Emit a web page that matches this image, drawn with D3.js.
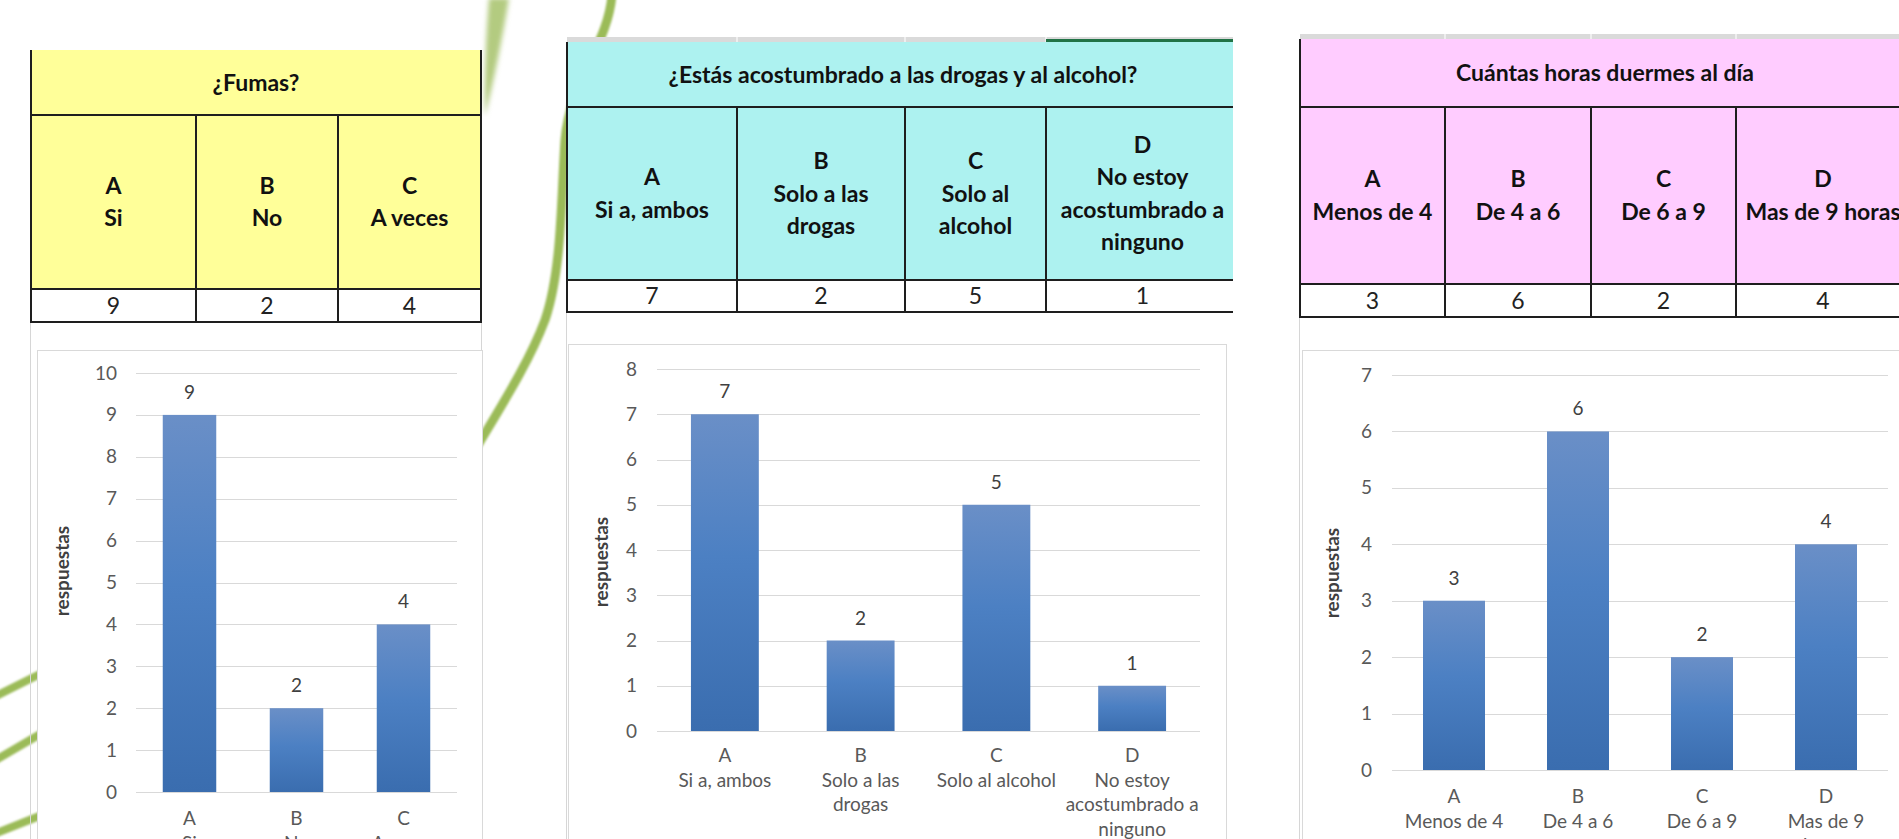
<!DOCTYPE html>
<html><head><meta charset="utf-8">
<script src="https://cdn.jsdelivr.net/npm/d3@7"></script>
<style>
html,body{margin:0;padding:0;background:#fff;overflow:hidden;}
svg{display:block;}
text{font-family:Lato,"Open Sans",sans-serif;}
</style></head><body>
<svg id="c" width="1899" height="839"></svg>
<script>
// ---------------- DATA ----------------
const axisTitle = "respuestas";

const fumasTitle = "¿Fumas?";
const fumasCategories = ["A", "B", "C"];
const fumasOptions = [["Si"], ["No"], ["A veces"]];
const fumasAxisOptions = [["Si"], ["No"], ["A veces"]];
const fumasValues = [9, 2, 4];
const fumasTicks = [0, 1, 2, 3, 4, 5, 6, 7, 8, 9, 10];

const drogasTitle = "¿Estás acostumbrado a las drogas y al alcohol?";
const drogasCategories = ["A", "B", "C", "D"];
const drogasOptions = [["Si a, ambos"], ["Solo a las", "drogas"], ["Solo al", "alcohol"], ["No estoy", "acostumbrado a", "ninguno"]];
const drogasAxisOptions = [["Si a, ambos"], ["Solo a las", "drogas"], ["Solo al alcohol"], ["No estoy", "acostumbrado a", "ninguno"]];
const drogasValues = [7, 2, 5, 1];
const drogasTicks = [0, 1, 2, 3, 4, 5, 6, 7, 8];

const suenoTitle = "Cuántas horas duermes al día";
const suenoCategories = ["A", "B", "C", "D"];
const suenoOptions = [["Menos de 4"], ["De 4 a 6"], ["De 6 a 9"], ["Mas de 9 horas"]];
const suenoAxisOptions = [["Menos de 4"], ["De 4 a 6"], ["De 6 a 9"], ["Mas de 9", "horas"]];
const suenoValues = [3, 6, 2, 4];
const suenoTicks = [0, 1, 2, 3, 4, 5, 6, 7];

// ---------------- LAYOUT ----------------
const panels = [
  {title: fumasTitle, cats: fumasCategories, opts: fumasOptions, axisOpts: fumasAxisOptions, values: fumasValues, ticks: fumasTicks,
   fill: "#FFFF99",
   table: {cols: [31, 196, 338, 481], clipRight: 482, top: 50, titleBottom: 115, headBottom: 289, valBottom: 322, band: null, green: null},
   chart: {box: [37, 350, 482, 900], x0: 136, x1: 457, yTop: 373, yZero: 792, tickRight: 117, titleX: 62, titleY: 571, catGap: 33}},
  {title: drogasTitle, cats: drogasCategories, opts: drogasOptions, axisOpts: drogasAxisOptions, values: drogasValues, ticks: drogasTicks,
   fill: "#ADF2F0",
   table: {cols: [567, 737, 905, 1046, 1239], clipRight: 1233, top: 42, titleBottom: 107, headBottom: 280, valBottom: 312, band: 37, green: [1046, 1233]},
   chart: {box: [568, 344, 1226, 900], x0: 657, x1: 1200, yTop: 369, yZero: 731, tickRight: 637, titleX: 601, titleY: 562, catGap: 31}},
  {title: suenoTitle, cats: suenoCategories, opts: suenoOptions, axisOpts: suenoAxisOptions, values: suenoValues, ticks: suenoTicks,
   fill: "#FFCCFF",
   table: {cols: [1300, 1445, 1591, 1736, 1910], clipRight: 1920, top: 39, titleBottom: 107, headBottom: 284, valBottom: 317, band: 34, green: null},
   chart: {box: [1302, 350, 1960, 900], x0: 1392, x1: 1888, yTop: 375, yZero: 770, tickRight: 1372, titleX: 1332, titleY: 573, catGap: 33}}
];

const svg = d3.select("#c");
const defs = svg.append("defs");

const grad = defs.append("linearGradient").attr("id", "barGrad")
  .attr("x1", 0).attr("y1", 0).attr("x2", 0).attr("y2", 1);
grad.append("stop").attr("offset", "0%").attr("stop-color", "#6A8FC7");
grad.append("stop").attr("offset", "45%").attr("stop-color", "#4C80C3");
grad.append("stop").attr("offset", "100%").attr("stop-color", "#3A6DAF");

const blur = defs.append("filter").attr("id", "soft").attr("x", "-20%").attr("y", "-20%").attr("width", "140%").attr("height", "140%");
blur.append("feGaussianBlur").attr("stdDeviation", 1.2);
const blur2 = defs.append("filter").attr("id", "softer").attr("x", "-50%").attr("y", "-20%").attr("width", "200%").attr("height", "140%");
blur2.append("feGaussianBlur").attr("stdDeviation", 2.5);

// ---------------- decorative background leaves ----------------
const deco = svg.append("g");
deco.append("path").attr("d", "M489,-2 L509,-2 C503,35 494,80 485,116 C484,80 486,35 489,-2 Z")
  .attr("fill", "#B3CB80").attr("filter", "url(#softer)");
deco.append("path").attr("d", "M612,-5 C608,45 570,80 565,140 C561,200 562,270 545,320 C530,360 505,400 478,445")
  .attr("fill", "none").attr("stroke", "#9BBB59").attr("stroke-width", 9).attr("stroke-linecap", "round").attr("filter", "url(#soft)");
[["M-6,697 L42,673"], ["M-6,761 L42,733"], ["M-6,834 L42,815"]].forEach(d => {
  deco.append("path").attr("d", d[0]).attr("fill", "none").attr("stroke", "#9BBB59")
    .attr("stroke-width", 8).attr("stroke-linecap", "round").attr("filter", "url(#soft)");
});

// ---------------- draw panels ----------------
const LINE = "#1e1e1e";
const TFS = 23;     // table font size
const CFS = 19;     // chart font size

panels.forEach((p, pi) => {
  const t = p.table, c = p.chart;
  const x0 = t.cols[0], xR = t.cols[t.cols.length - 1];

  const guide = svg.append("g").attr("stroke", "#D6D6D6").attr("stroke-width", 1);
  guide.append("line").attr("x1", x0 - 0.5).attr("x2", x0 - 0.5).attr("y1", t.valBottom).attr("y2", 839);
  if (pi === 0) guide.append("line").attr("x1", xR + 0.5).attr("x2", xR + 0.5).attr("y1", t.valBottom).attr("y2", c.box[1]);

  // ---- table ----
  defs.append("clipPath").attr("id", "tclip" + pi).append("rect")
    .attr("x", x0 - 3).attr("y", 0).attr("width", t.clipRight - x0 + 3).attr("height", 839);
  const tg = svg.append("g").attr("clip-path", "url(#tclip" + pi + ")");

  if (t.band !== null) {
    tg.append("rect").attr("x", x0).attr("y", t.band).attr("width", xR - x0).attr("height", t.top - t.band)
      .attr("fill", "#DADADA");
    t.cols.slice(1, -1).forEach(cx => {
      tg.append("line").attr("x1", cx).attr("x2", cx).attr("y1", t.band).attr("y2", t.top)
        .attr("stroke", "#F4F4F4").attr("stroke-width", 1.5);
    });
    if (t.green) tg.append("rect").attr("x", t.green[0]).attr("y", t.top - 3).attr("width", t.green[1] - t.green[0]).attr("height", 3)
      .attr("fill", "#217346");
  }
  tg.append("rect").attr("x", x0).attr("y", t.top).attr("width", xR - x0).attr("height", t.headBottom - t.top).attr("fill", p.fill);
  tg.append("rect").attr("x", x0).attr("y", t.headBottom).attr("width", xR - x0).attr("height", t.valBottom - t.headBottom).attr("fill", "#FFFFFF");

  const lines = tg.append("g").attr("stroke", LINE).attr("stroke-width", 2);
  [t.titleBottom, t.headBottom, t.valBottom].forEach(y => {
    lines.append("line").attr("x1", x0).attr("x2", xR).attr("y1", y).attr("y2", y);
  });
  [x0, xR].forEach(x => lines.append("line").attr("x1", x).attr("x2", x).attr("y1", t.top).attr("y2", t.valBottom + 1));
  t.cols.slice(1, -1).forEach(x => lines.append("line").attr("x1", x).attr("x2", x).attr("y1", t.titleBottom).attr("y2", t.valBottom));

  tg.append("text").attr("x", (x0 + xR) / 2).attr("y", (t.top + t.titleBottom) / 2 + 8)
    .attr("text-anchor", "middle").attr("font-size", TFS).attr("font-weight", 700).attr("fill", "#111").text(p.title);

  const hc = (t.titleBottom + t.headBottom) / 2;
  const vc = (t.headBottom + t.valBottom) / 2;
  p.cats.forEach((cat, i) => {
    const cx = (t.cols[i] + t.cols[i + 1]) / 2;
    const ls = [cat].concat(p.opts[i]);
    const txt = tg.append("text").attr("text-anchor", "middle").attr("font-size", TFS).attr("font-weight", 700).attr("fill", "#111");
    ls.forEach((s, k) => {
      txt.append("tspan").attr("x", cx).attr("y", hc + (k - (ls.length - 1) / 2) * 32.5 + 8).text(s);
    });
    tg.append("text").attr("x", cx).attr("y", vc + 8).attr("text-anchor", "middle").attr("font-size", TFS)
      .attr("fill", "#222").text(p.values[i]);
  });

  // ---- chart ----
  const b = c.box;
  svg.append("rect").attr("x", b[0] + 0.5).attr("y", b[1] + 0.5).attr("width", b[2] - b[0]).attr("height", b[3] - b[1])
    .attr("fill", "#FFFFFF").attr("stroke", "#D9D9D9").attr("stroke-width", 1);

  const x = d3.scaleBand().domain(p.cats).range([c.x0, c.x1]).paddingInner(0.5).paddingOuter(0.25);
  const y = d3.scaleLinear().domain([0, d3.max(p.ticks)]).range([c.yZero, c.yTop]);

  const cg = svg.append("g");
  cg.append("g").selectAll("line").data(p.ticks).join("line")
    .attr("x1", c.x0).attr("x2", c.x1)
    .attr("y1", d => Math.round(y(d)) + 0.5).attr("y2", d => Math.round(y(d)) + 0.5)
    .attr("stroke", "#D9D9D9").attr("stroke-width", 1.2);

  const ax = cg.append("g").attr("transform", `translate(${c.x0},0)`)
    .call(d3.axisLeft(y).tickValues(p.ticks).tickSize(0).tickPadding(c.x0 - c.tickRight).tickFormat(d3.format("d")));
  ax.select(".domain").remove();
  ax.selectAll("text").attr("font-size", CFS).attr("fill", "#595959").attr("font-family", "Lato, sans-serif");

  cg.append("g").selectAll("rect").data(p.values).join("rect")
    .attr("x", (d, i) => x(p.cats[i])).attr("width", x.bandwidth())
    .attr("y", d => y(d)).attr("height", d => y(0) - y(d))
    .attr("fill", "url(#barGrad)");

  cg.append("g").selectAll("text").data(p.values).join("text")
    .attr("x", (d, i) => x(p.cats[i]) + x.bandwidth() / 2).attr("y", d => y(d) - 16)
    .attr("text-anchor", "middle").attr("font-size", CFS).attr("fill", "#404040").text(d => d);

  p.cats.forEach((cat, i) => {
    const cx = x(cat) + x.bandwidth() / 2;
    const ls = [cat].concat(p.axisOpts[i]);
    const txt = cg.append("text").attr("text-anchor", "middle").attr("font-size", CFS).attr("fill", "#595959");
    ls.forEach((s, k) => txt.append("tspan").attr("x", cx).attr("y", c.yZero + c.catGap + k * 24.5).text(s));
  });

  cg.append("text").attr("transform", `translate(${c.titleX},${c.titleY}) rotate(-90)`)
    .attr("text-anchor", "middle").attr("dy", "0.35em").attr("font-size", CFS).attr("font-weight", 700)
    .attr("fill", "#404040").text(axisTitle);
});
</script>
</body></html>
